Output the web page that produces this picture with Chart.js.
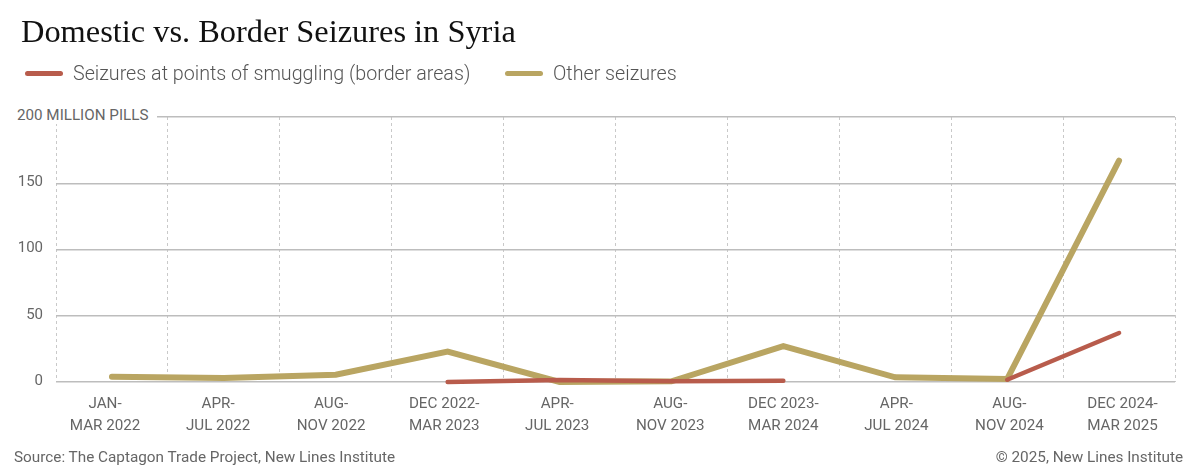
<!DOCTYPE html>
<html>
<head>
<meta charset="utf-8">
<title>Domestic vs. Border Seizures in Syria</title>
<script src="https://cdn.jsdelivr.net/npm/chart.js@4/dist/chart.umd.min.js"></script>
<style>
  html, body { margin: 0; padding: 0; background: #fff; }
  body { position: relative; width: 1200px; height: 475px; overflow: hidden; font-family: Roboto, sans-serif; color: #666; }
  #chart { position: absolute; left: 0; top: 0; }
  .abs { position: absolute; white-space: nowrap; }
  #title { left: 21px; top: 12px; font: 32.4px/38px "Liberation Serif", serif; color: #111; }
  .swatch { height: 5px; width: 38px; border-radius: 3px; top: 71px; }
  .legend-text { top: 61px; font-size: 19.7px; line-height: 26px; font-weight: 300; color: #555; }
  #unit { left: 17px; top: 106px; padding-right: 9px; font-size: 15.2px; line-height: 18px; background: #fff; }
  .foot { top: 447px; font-size: 15.3px; line-height: 20px; }
</style>
</head>
<body>
<canvas id="chart" width="1200" height="475"></canvas>
<div class="abs" id="title">Domestic vs. Border Seizures in Syria</div>
<div class="abs swatch" style="left:25px;background:#b85c4c"></div>
<div class="abs legend-text" style="left:73px">Seizures at points of smuggling (border areas)</div>
<div class="abs swatch" style="left:505px;background:#b9a562"></div>
<div class="abs legend-text" style="left:553px">Other seizures</div>
<div class="abs" id="unit">200 MILLION PILLS</div>
<div class="abs foot" style="left:14px">Source: The Captagon Trade Project, New Lines Institute</div>
<div class="abs foot" style="right:17px">© 2025, New Lines Institute</div>
<script>
const categories = [
  ['JAN-', 'MAR 2022'], ['APR-', 'JUL 2022'], ['AUG-', 'NOV 2022'], ['DEC 2022-', 'MAR 2023'],
  ['APR-', 'JUL 2023'], ['AUG-', 'NOV 2023'], ['DEC 2023-', 'MAR 2024'], ['APR-', 'JUL 2024'],
  ['AUG-', 'NOV 2024'], ['DEC 2024-', 'MAR 2025']
];
const borderSeizures = [null, null, null, 0, 1.5, 0.5, 1, null, 1.7, 37];
const otherSeizures = [4, 3, 5.5, 23, 0, 0.5, 27, 3.5, 2.2, 167];
const yTicks = [0, 50, 100, 150, 200];

// the tick labels sit on a slightly wider span than the points, so they get their own axis
const stretchLabelAxis = {
  id: 'stretchLabelAxis',
  afterLayout(chart) {
    const axis = chart.scales.xLabels;
    axis.left = 48.5;
    axis.right = 1179;
    axis.configure();
  },
};

new Chart(document.getElementById('chart'), {
  type: 'line',
  plugins: [stretchLabelAxis],
  data: {
    labels: categories,
    datasets: [
      {
        label: 'Seizures at points of smuggling (border areas)',
        data: borderSeizures,
        borderColor: '#b85c4c',
        borderWidth: 4.5,
        borderCapStyle: 'round',
        borderJoinStyle: 'round',
        pointRadius: 0,
        clip: false,
        order: 1,
      },
      {
        label: 'Other seizures',
        data: otherSeizures,
        borderColor: '#b9a562',
        borderWidth: 6,
        borderCapStyle: 'round',
        borderJoinStyle: 'miter',
        pointRadius: 0,
        clip: false,
        order: 2,
      },
    ],
  },
  options: {
    responsive: false,
    animation: false,
    layout: { padding: { top: 117, right: 25, left: 0, bottom: 0 } },
    plugins: { legend: { display: false }, title: { display: false }, tooltip: { enabled: false } },
    scales: {
      x: {
        offset: true,
        border: { display: false, dash: [3, 3] },
        grid: { offset: true, drawTicks: false, color: '#c9c9c9', lineWidth: 1 },
        ticks: { display: false },
        afterFit: (scale) => { scale.height = 0; },
      },
      xLabels: {
        type: 'category',
        position: 'bottom',
        labels: categories,
        offset: true,
        border: { display: false },
        grid: { display: false, drawTicks: false },
        ticks: {
          maxRotation: 0,
          autoSkip: false,
          padding: 11,
          color: '#666',
          font: { family: 'Roboto', size: 15.2, lineHeight: 1.47 },
        },
        afterFit: (scale) => { scale.height = 93; },
      },
      y: {
        min: 0,
        max: 200,
        afterBuildTicks: (scale) => { scale.ticks = yTicks.map((value) => ({ value })); },
        border: { display: false },
        grid: { drawTicks: false, color: '#bdbdbd', lineWidth: 1.5 },
        ticks: {
          padding: 13,
          labelOffset: -1,
          color: '#666',
          font: { family: 'Roboto', size: 15 },
          callback: (value) => (value === 200 ? '' : value),
        },
        afterFit: (scale) => { scale.width = 56; },
      },
    },
  },
});
</script>
</body>
</html>
